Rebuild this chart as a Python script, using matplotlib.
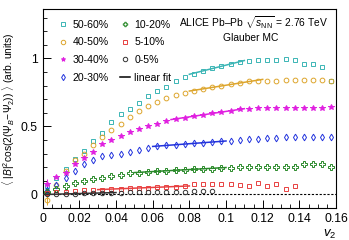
import matplotlib
matplotlib.use("Agg")
import matplotlib.pyplot as plt
import numpy as np
from matplotlib.lines import Line2D

plt.rcParams['font.family'] = ['Liberation Sans', 'DejaVu Sans']
plt.rcParams['mathtext.fontset'] = 'custom'
plt.rcParams['mathtext.rm'] = 'Liberation Sans'
plt.rcParams['mathtext.it'] = 'Liberation Sans:italic'

# bin centres in v2
v2 = [0.0025, 0.0075, 0.0125, 0.0175, 0.0225, 0.0275, 0.0325, 0.0375,
      0.0425, 0.0475, 0.0525, 0.0575, 0.0625, 0.0675, 0.0725, 0.0775,
      0.0825, 0.0875, 0.0925, 0.0975, 0.1025, 0.1075, 0.1125, 0.1175,
      0.1225, 0.1275, 0.1325, 0.1375, 0.1425, 0.1475, 0.1525, 0.1575]

c50_60 = [0.06, 0.12, 0.19, 0.26, 0.32, 0.39, 0.45, 0.53, 0.59, 0.63, 0.67, 0.72,
          0.76, 0.79, 0.83, 0.86, 0.885, 0.91, 0.93, 0.945, 0.96, 0.97, 0.98, 0.985,
          0.985, 0.985, 0.995, 0.985, 0.955, 0.955, 0.935, 0.83]
c40_50 = [-0.04, 0.07, 0.17, 0.25, 0.30, 0.36, 0.42, 0.47, 0.52, 0.57, 0.61, 0.65,
          0.68, 0.71, 0.73, 0.745, 0.76, 0.775, 0.79, 0.80, 0.81, 0.82, 0.83, 0.835,
          0.835, 0.835, 0.84, 0.84, 0.84, 0.84, 0.84, 0.83]
c30_40 = [0.08, 0.13, 0.16, 0.22, 0.27, 0.31, 0.37, 0.40, 0.43, 0.46, 0.48, 0.50,
          0.52, 0.54, 0.555, 0.565, 0.575, 0.585, 0.595, 0.605, 0.615, 0.625, 0.63, 0.635,
          0.635, 0.635, 0.635, 0.635, 0.635, 0.635, 0.635, 0.64]
c20_30 = [0.03, 0.07, 0.12, 0.17, 0.22, 0.25, 0.28, 0.29, 0.30, 0.315, 0.33, 0.34,
          0.355, 0.36, 0.365, 0.37, 0.375, 0.38, 0.385, 0.39, 0.395, 0.40, 0.405, 0.41,
          0.415, 0.415, 0.42, 0.42, 0.425, 0.425, 0.425, 0.425]
c10_20 = [0.02, 0.04, 0.06, 0.085, 0.10, 0.115, 0.12, 0.135, 0.145, 0.155, 0.16, 0.165,
          0.17, 0.175, 0.18, 0.182, 0.185, 0.188, 0.19, 0.195, 0.195, 0.20, 0.20, 0.20,
          0.20, 0.205, 0.205, 0.205, 0.225, 0.225, 0.22, 0.20]
c5_10 = [0.01, 0.015, 0.02, 0.025, 0.03, 0.035, 0.035, 0.04, 0.042, 0.045, 0.048, 0.05,
         0.053, 0.055, 0.058, 0.06, 0.073, 0.08, 0.075, 0.08, 0.073, 0.066, 0.061, 0.085,
         0.061, 0.073, 0.042, 0.061]
c0_5 = [0.0, 0.0, 0.005, 0.005, 0.008, 0.01, 0.01, 0.012, 0.012, 0.015, 0.015, 0.017,
        0.018, 0.02, 0.02, 0.02, 0.022, 0.025, 0.025]

labels = ['50-60%', '40-50%', '30-40%', '20-30%', '10-20%', '5-10%', '0-5%']
series = [c50_60, c40_50, c30_40, c20_30, c10_20, c5_10, c0_5]
colors = ['#3bb5b5', '#dda52c', '#e020e0', '#2233dd', '#2a8a2a', '#e84040', '#333333']
markers = ['s', 'o', '*', 'd', 'P', 's', 'o']
msizes = [3.2, 3.4, 4.0, 3.4, 3.8, 3.2, 3.2]
filled = [False, False, True, False, False, False, False]
first_err = [0.04, 0.035, 0.03, 0.02, 0.015, 0.01, 0.01]
fit_ranges = [(0.08, 0.11), (0.08, 0.12), (0.07, 0.11), (0.06, 0.10),
              (0.05, 0.10), (0.03, 0.08), (0.0, 0.04)]

fig = plt.figure(figsize=(3.49, 2.40), dpi=100)
ax = fig.add_axes([0.1223, 0.1333, 0.8405, 0.8277])

ax.axhline(0, color='black', ls=(0, (2, 1.5)), lw=0.8, zorder=1)

handles = []
for lab, y, col, m, ms, f, e0, fr in zip(labels, series, colors, markers, msizes,
                                         filled, first_err, fit_ranges):
    x = np.array(v2[:len(y)])
    y = np.array(y)
    fc = col if f else 'none'
    ax.errorbar(x[:1], y[:1], yerr=[e0], fmt='none', ecolor=col, elinewidth=0.7, zorder=2)
    ax.plot(x, y, ls='none', marker=m, ms=ms, mfc=fc, mec=col, mew=0.7, zorder=3)
    sel = (x >= fr[0]) & (x <= fr[1])
    p = np.polyfit(x[sel], y[sel], 1)
    xf = np.array(fr)
    ax.plot(xf, np.polyval(p, xf), color=col, lw=1.1, zorder=4)
    handles.append(Line2D([], [], ls='none', marker=m, ms=min(ms, 3.2), mfc=fc, mec=col, mew=0.7, label=lab))
handles.append(Line2D([], [], color='black', lw=1.1, label='linear fit'))

ax.legend(handles=handles, ncol=2, loc='upper left', bbox_to_anchor=(0.02, 0.995),
          frameon=False, fontsize=7.6, handlelength=1.0, handletextpad=0.4,
          labelspacing=0.72, columnspacing=1.0)

ax.text(0.72, 0.935, r'ALICE Pb–Pb $\sqrt{s_{\rm NN}}$ = 2.76 TeV', transform=ax.transAxes,
        ha='center', va='center', fontsize=7.4)
ax.text(0.71, 0.855, 'Glauber MC', transform=ax.transAxes, ha='center', va='center', fontsize=7.4)

ax.set_xlim(0, 0.16)
ax.set_ylim(-0.095, 1.36)
ax.set_xticks([0, 0.02, 0.04, 0.06, 0.08, 0.1, 0.12, 0.14, 0.16])
ax.set_xticklabels(['0', '0.02', '0.04', '0.06', '0.08', '0.1', '0.12', '0.14', '0.16'])
ax.set_xticks(np.arange(0, 0.1601, 0.005), minor=True)
ax.set_yticks([0, 0.5, 1])
ax.set_yticklabels(['0', '0.5', '1'])
ax.set_yticks(np.arange(-0.1, 1.36, 0.1), minor=True)
ax.tick_params(which='both', direction='in', labelsize=8.8)
ax.tick_params(which='major', length=5.5, width=0.7)
ax.tick_params(which='minor', length=3, width=0.6)
for s in ax.spines.values():
    s.set_linewidth(0.8)

ax.set_ylabel(r'$\langle\ |B|^2$cos$(2(\Psi_B\!-\!\Psi_2))\ \rangle$ (arb. units)', fontsize=7.4, labelpad=3)
ax.set_xlabel(r'$v_2$', fontsize=9.5)
ax.xaxis.set_label_coords(0.98, -0.1)

fig.savefig('out.png', dpi=100)
